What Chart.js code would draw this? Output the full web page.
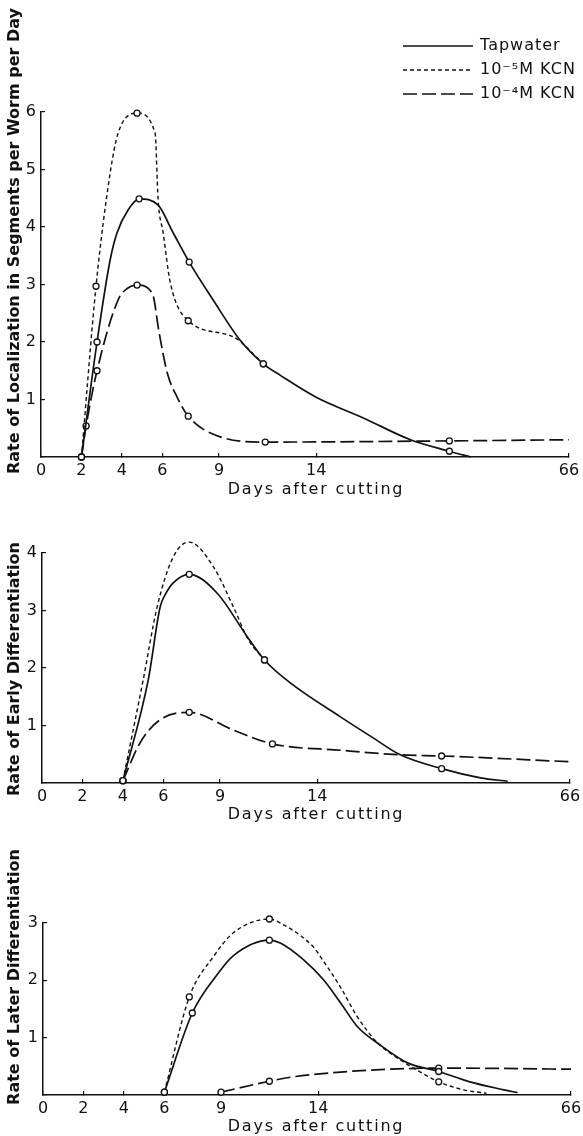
<!DOCTYPE html>
<html>
<head>
<meta charset="utf-8">
<script src="https://cdn.jsdelivr.net/npm/chart.js@4.4.1/dist/chart.umd.min.js"></script>
<style>
  body { margin: 0; background: #fff; width: 583px; height: 1136px; position: relative; overflow: hidden; }
  canvas { position: absolute; left: 0; }
</style>
</head>
<body>
<canvas id="loc" width="583" height="500" style="top:0"></canvas>
<canvas id="early" width="583" height="330" style="top:500px"></canvas>
<canvas id="later" width="583" height="306" style="top:830px"></canvas>
<script>
// broken day axis: roughly even up to day 14, then squeezed out to 66
var dayTicks = [0, 2, 4, 6, 9, 14, 66];
var tickPos  = [0, 2, 4, 6, 8.8, 13.6, 26.1];

var seriesNames = ['Tapwater', '10\u207B\u2075M KCN', '10\u207B\u2074M KCN'];

// localization, segments per worm per day (mark = 1 where a sample was taken)
var locTapDays  = [2, 2.77, 3.42, 3.76, 4.31, 4.85, 5.79, 6.57, 7.42, 8.69, 10.09, 11.28, 12.16, 14, 23.7, 33.4, 41.4, 45.8];
var locTapRate  = [0, 2.0, 3.43, 3.9, 4.3, 4.49, 4.38, 3.9, 3.39, 2.73, 2.03, 1.62, 1.42, 1.04, 0.68, 0.30, 0.10, 0];
var locTapMark  = [1, 1, 0, 0, 0, 1, 0, 0, 1, 0, 0, 1, 0, 0, 0, 0, 1, 0];
var locLowDays  = [2, 2.72, 3.42, 3.81, 4.75, 5.64, 5.79, 6.04, 6.42, 7.37, 9.73, 11.28];
var locLowRate  = [0, 2.97, 4.94, 5.63, 5.98, 5.63, 4.47, 3.90, 3.03, 2.37, 2.09, 1.62];
var locLowMark  = [1, 1, 0, 0, 1, 0, 0, 0, 0, 1, 0, 1];
var locHighDays = [2, 2.23, 2.77, 3.81, 4.26, 4.75, 5.5, 5.84, 6.26, 6.78, 7.37, 9.06, 11.38, 41.4, 66];
var locHighRate = [0, 0.54, 1.50, 2.73, 2.93, 2.99, 2.85, 2.16, 1.46, 1.04, 0.71, 0.35, 0.26, 0.28, 0.30];
var locHighMark = [1, 1, 1, 0, 0, 1, 0, 0, 0, 0, 1, 0, 1, 1, 0];

// early differentiation
var earlyTapDays  = [4, 5.25, 5.84, 6.09, 6.52, 7.37, 8.85, 10.41, 11.29, 12.62, 18.8, 25.6, 31.1, 39.6, 47.6, 53.2];
var earlyTapRate  = [0.04, 1.79, 3.06, 3.27, 3.48, 3.63, 3.30, 2.54, 2.14, 1.74, 1.15, 0.78, 0.49, 0.25, 0.09, 0.03];
var earlyTapMark  = [1, 0, 0, 0, 0, 1, 0, 0, 1, 0, 0, 0, 0, 1, 0, 0];
var earlyLowDays  = [4, 5.0, 5.69, 6.52, 7.37, 8.65, 9.69, 10.46, 11.29];
var earlyLowRate  = [0.04, 1.79, 3.06, 3.93, 4.19, 3.76, 3.06, 2.49, 2.14];
var earlyLowMark  = [1, 0, 0, 0, 1, 0, 0, 0, 1];
var earlyHighDays = [4, 4.85, 5.84, 7.37, 9.69, 11.7, 18.8, 31.1, 39.6, 66];
var earlyHighRate = [0.04, 0.70, 1.10, 1.23, 0.92, 0.68, 0.57, 0.49, 0.47, 0.37];
var earlyHighMark = [1, 0, 0, 1, 0, 1, 0, 0, 1, 0];

// later differentiation
var laterTapDays  = [6, 7.48, 8.8, 9.64, 11.49, 12.05, 13.24, 15.1, 18.6, 22.1, 26.8, 32.4, 38.8, 45.2, 52.2, 55];
var laterTapRate  = [0.05, 1.43, 2.1, 2.43, 2.70, 2.65, 2.36, 2.01, 1.61, 1.19, 0.87, 0.56, 0.41, 0.23, 0.09, 0.04];
var laterTapMark  = [1, 1, 0, 0, 1, 0, 0, 0, 0, 0, 0, 0, 1, 0, 0, 0];
var laterLowDays  = [6, 7.32, 8.59, 9.64, 11.49, 12.05, 13.76, 14.9, 18.6, 22.1, 26.2, 30.9, 33.6, 38.8, 43.9, 48.6];
var laterLowRate  = [0.05, 1.71, 2.41, 2.83, 3.07, 3.0, 2.58, 2.36, 1.88, 1.36, 0.91, 0.61, 0.47, 0.23, 0.09, 0.03];
var laterLowMark  = [1, 1, 0, 0, 1, 0, 0, 0, 0, 0, 0, 0, 0, 1, 0, 0];
var laterHighDays = [9, 11.49, 12.57, 18.6, 28.9, 38.8, 66];
var laterHighRate = [0.05, 0.24, 0.31, 0.40, 0.45, 0.47, 0.45];
var laterHighMark = [1, 1, 0, 0, 0, 1, 0];

var ink = '#111';
var face = '"DejaVu Sans", sans-serif';

// day -> position on the broken axis
function dayToPos(d) {
  for (var i = 1; i < dayTicks.length; i++) {
    if (d <= dayTicks[i]) {
      var f = (d - dayTicks[i - 1]) / (dayTicks[i] - dayTicks[i - 1]);
      return tickPos[i - 1] + f * (tickPos[i] - tickPos[i - 1]);
    }
  }
  return tickPos[tickPos.length - 1];
}

var dashes = [[], [4, 3], [14, 5]];
var widths = [1.7, 1.4, 1.7];

function series(i, days, rate, mark) {
  return {
    label: seriesNames[i],
    data: days.map(function (d, k) { return { x: dayToPos(d), y: rate[k] }; }),
    borderColor: ink,
    borderWidth: widths[i],
    borderDash: dashes[i],
    cubicInterpolationMode: 'monotone',
    pointRadius: mark.map(function (m) { return m ? 3 : 0; }),
    pointBackgroundColor: '#fff',
    pointBorderColor: ink,
    pointBorderWidth: 1.3,
    clip: false,
    fill: false
  };
}

// axis titles sit off-centre, so they are drawn by hand
var axisTitles = {
  id: 'axisTitles',
  afterDraw: function (chart, args, opts) {
    var ctx = chart.ctx;
    ctx.save();
    ctx.fillStyle = ink;
    ctx.textAlign = 'center';
    ctx.textBaseline = 'middle';
    ctx.font = '16px ' + face;
    ctx.letterSpacing = '1.8px';
    ctx.fillText('Days after cutting', 316, opts.xTitleY);
    ctx.letterSpacing = '0px';
    ctx.translate(opts.yTitleX, opts.yTitleY);
    ctx.rotate(-Math.PI / 2);
    ctx.font = 'bold 16px ' + face;
    ctx.fillText(opts.yTitle, 0, 0);
    ctx.restore();
  }
};

var keyPlugin = {
  id: 'key',
  afterDraw: function (chart) {
    var ctx = chart.ctx;
    ctx.save();
    ctx.fillStyle = ink;
    ctx.strokeStyle = ink;
    ctx.textBaseline = 'middle';
    ctx.textAlign = 'left';
    ctx.font = '16px ' + face;
    ctx.letterSpacing = '1px';
    chart.data.datasets.forEach(function (ds, i) {
      var y = 46 + i * 24;
      ctx.lineWidth = ds.borderWidth;
      ctx.setLineDash(ds.borderDash);
      ctx.beginPath();
      ctx.moveTo(403, y);
      ctx.lineTo(473, y);
      ctx.stroke();
      ctx.fillText(ds.label, 480, y);
    });
    ctx.restore();
  }
};

function makeChart(id, sets, yMax, axisX, box, titles, extra) {
  return new Chart(document.getElementById(id), {
    type: 'line',
    data: { datasets: sets },
    plugins: [axisTitles].concat(extra || []),
    options: {
      responsive: false,
      animation: false,
      events: [],
      layout: { autoPadding: false, padding: { left: 0, top: box.top, right: 583 - axisX - 528, bottom: 0 } },
      plugins: { legend: { display: false }, tooltip: { enabled: false }, axisTitles: titles },
      scales: {
        x: {
          type: 'linear',
          min: 0,
          max: tickPos[tickPos.length - 1],
          afterBuildTicks: function (scale) {
            scale.ticks = tickPos.map(function (v) { return { value: v }; });
          },
          afterFit: function (scale) {
            scale.height = box.xh;
            scale.paddingLeft = scale.paddingRight = 0;
          },
          border: { color: ink, width: 1.5 },
          grid: { drawOnChartArea: false, tickLength: -4, color: ink, lineWidth: 1.2 },
          ticks: {
            autoSkip: false,
            maxRotation: 0,
            padding: 8,
            color: ink,
            font: { family: face, size: 16 },
            callback: function (v, i) { return String(dayTicks[i]); }
          }
        },
        y: {
          min: 0,
          max: yMax,
          afterFit: function (scale) {
            scale.width = axisX;
            scale.paddingTop = scale.paddingBottom = 0;
          },
          border: { color: ink, width: 1.5 },
          grid: { drawOnChartArea: false, tickLength: -4, color: ink, lineWidth: 1.2 },
          ticks: {
            stepSize: 1,
            padding: 9,
            color: ink,
            font: { family: face, size: 16 },
            callback: function (v) { return v === 0 ? '' : v; }
          }
        }
      }
    }
  });
}

makeChart('loc', [
  series(0, locTapDays, locTapRate, locTapMark),
  series(1, locLowDays, locLowRate, locLowMark),
  series(2, locHighDays, locHighRate, locHighMark)
], 6, 41, { top: 112, xh: 43 },
  { yTitle: 'Rate of Localization in Segments per Worm per Day', yTitleX: 15, yTitleY: 241, xTitleY: 490 },
  [keyPlugin]);

makeChart('early', [
  series(0, earlyTapDays, earlyTapRate, earlyTapMark),
  series(1, earlyLowDays, earlyLowRate, earlyLowMark),
  series(2, earlyHighDays, earlyHighRate, earlyHighMark)
], 4, 42, { top: 53, xh: 47 },
  { yTitle: 'Rate of Early Differentiation', yTitleX: 15, yTitleY: 169, xTitleY: 315 });

makeChart('later', [
  series(0, laterTapDays, laterTapRate, laterTapMark),
  series(1, laterLowDays, laterLowRate, laterLowMark),
  series(2, laterHighDays, laterHighRate, laterHighMark)
], 3, 43, { top: 93, xh: 41 },
  { yTitle: 'Rate of Later Differentiation', yTitleX: 15, yTitleY: 147, xTitleY: 297 });
</script>
</body>
</html>
